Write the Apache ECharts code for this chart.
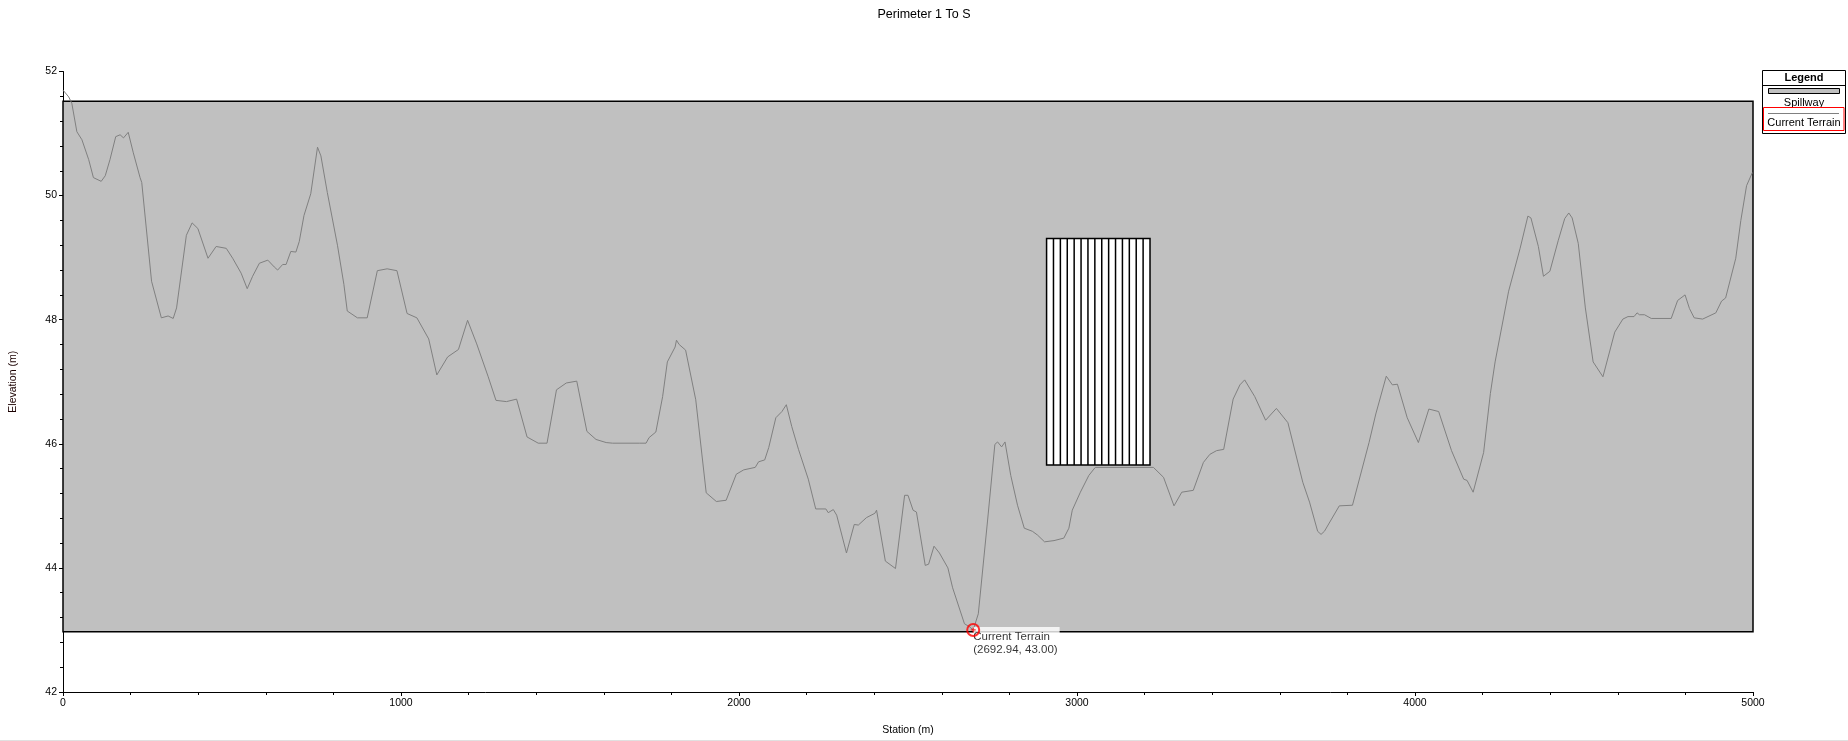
<!DOCTYPE html>
<html>
<head>
<meta charset="utf-8">
<script src="https://cdn.jsdelivr.net/npm/echarts@6/dist/echarts.min.js"></script>
<style>
  html, body { margin: 0; padding: 0; background: #fff; }
  #chart { width: 1848px; height: 741px; }
</style>
</head>
<body>
<div id="chart"></div>
<script>
// ---- Data ----
const chartTitle = 'Perimeter 1 To S';
const xAxisName = 'Station (m)';
const yAxisName = 'Elevation (m)';
const xTicks = [0, 1000, 2000, 3000, 4000, 5000];
const yTicks = [42, 44, 46, 48, 50, 52];
const seriesNames = ['Spillway', 'Current Terrain'];

// Spillway extent: [station start, station end, bottom elevation, top elevation]
const spillway = [0, 5000, 42.97, 51.52];
// Hatched block: [station start, station end, bottom elevation, top elevation]
const hatchBlock = [2910, 3216, 45.66, 49.31];

// Current terrain profile
const stations = [
  0, 17, 26, 41, 56, 76, 90, 113, 125, 139, 156, 169, 179, 193, 208, 228, 233, 262, 291, 311,
  326, 336, 365, 382, 399, 429, 453, 483, 502, 527, 545, 561, 581, 606, 625, 635, 650, 660, 674, 689,
  699, 713, 733, 753, 763, 782, 812, 831, 841, 871, 900, 930, 959, 988, 1018, 1047, 1082, 1106, 1138, 1170,
  1197, 1224, 1258, 1281, 1312, 1342, 1373, 1406, 1432, 1460, 1489, 1520, 1550, 1577, 1607, 1626, 1705, 1725, 1734, 1754,
  1774, 1788, 1811, 1815, 1823, 1842, 1872, 1903, 1933, 1962, 1992, 2014, 2048, 2058, 2076, 2088, 2109, 2127, 2140, 2156,
  2176, 2205, 2227, 2257, 2264, 2279, 2289, 2318, 2341, 2353, 2377, 2402, 2407, 2433, 2463, 2490, 2500, 2515, 2525, 2551,
  2561, 2577, 2593, 2618, 2632, 2667, 2682, 2692.94, 2708, 2735, 2757, 2765, 2777, 2787, 2804, 2824, 2844, 2868, 2883, 2904,
  2932, 2961, 2976, 2986, 3010, 3035, 3054, 3226, 3256, 3287, 3310, 3344, 3374, 3393, 3413, 3434, 3462, 3482, 3496, 3526,
  3558, 3590, 3624, 3668, 3688, 3712, 3722, 3732, 3776, 3815, 3864, 3884, 3915, 3933, 3948, 3977, 4010, 4041, 4070, 4075,
  4108, 4144, 4154, 4172, 4203, 4223, 4237, 4277, 4311, 4334, 4343, 4365, 4380, 4399, 4424, 4443, 4455, 4465, 4483, 4504,
  4527, 4556, 4591, 4615, 4630, 4648, 4657, 4664, 4679, 4699, 4758, 4777, 4799, 4812, 4826, 4851, 4890, 4907, 4919, 4949,
  4964, 4981, 4998
];
const elevations = [
  51.70, 51.59, 51.49, 51.03, 50.90, 50.58, 50.29, 50.23, 50.32, 50.58, 50.95, 50.98, 50.93, 51.02, 50.69, 50.29, 50.21, 48.62, 48.03, 48.06,
  48.02, 48.19, 49.36, 49.56, 49.47, 48.99, 49.18, 49.15, 48.99, 48.75, 48.50, 48.70, 48.91, 48.96, 48.85, 48.80, 48.89, 48.89, 49.10, 49.09,
  49.26, 49.68, 50.03, 50.78, 50.64, 50.05, 49.20, 48.57, 48.14, 48.03, 48.03, 48.79, 48.82, 48.79, 48.10, 48.03, 47.69, 47.11, 47.40, 47.52,
  47.99, 47.61, 47.08, 46.70, 46.68, 46.72, 46.11, 46.01, 46.01, 46.87, 46.98, 47.01, 46.20, 46.07, 46.02, 46.01, 46.01, 46.01, 46.10, 46.19,
  46.76, 47.32, 47.56, 47.67, 47.60, 47.51, 46.71, 45.21, 45.07, 45.09, 45.51, 45.58, 45.62, 45.71, 45.74, 45.94, 46.42, 46.52, 46.63, 46.28,
  45.91, 45.43, 44.95, 44.95, 44.89, 44.94, 44.85, 44.24, 44.70, 44.69, 44.81, 44.88, 44.93, 44.11, 43.99, 45.17, 45.17, 44.93, 44.90, 44.04,
  44.06, 44.35, 44.24, 44.00, 43.68, 43.10, 43.05, 43.00, 43.26, 44.74, 45.99, 46.03, 45.95, 46.03, 45.49, 45.01, 44.64, 44.59, 44.53, 44.42,
  44.44, 44.48, 44.64, 44.93, 45.22, 45.49, 45.62, 45.62, 45.46, 45.00, 45.22, 45.25, 45.70, 45.83, 45.89, 45.91, 46.72, 46.95, 47.03, 46.76,
  46.38, 46.57, 46.34, 45.38, 45.06, 44.59, 44.54, 44.59, 45.00, 45.01, 46.02, 46.48, 47.09, 46.95, 46.96, 46.42, 46.02, 46.56, 46.52, 46.55,
  45.89, 45.43, 45.41, 45.22, 45.86, 46.81, 47.32, 48.46, 49.15, 49.67, 49.64, 49.18, 48.70, 48.78, 49.28, 49.63, 49.72, 49.64, 49.23, 48.19,
  47.32, 47.08, 47.80, 48.01, 48.05, 48.05, 48.11, 48.08, 48.08, 48.02, 48.02, 48.31, 48.40, 48.18, 48.03, 48.01, 48.11, 48.30, 48.35, 48.99,
  49.60, 50.16, 50.37
];
// Highlighted point
const currentPoint = [2692.94, 43.00];

// ---- Chart ----
const HATCH_INTERVALS = 15;
const FONT = '"Liberation Sans", Arial, sans-serif';

const terrainData = stations.map((s, i) => [s, elevations[i]]);

const chart = echarts.init(document.getElementById('chart'), null, { renderer: 'canvas' });

const option = {
  animation: false,
  backgroundColor: '#ffffff',
  title: {
    text: chartTitle,
    left: 'center',
    top: 3,
    textStyle: { fontFamily: FONT, fontSize: 12.5, fontWeight: 'normal', color: '#000' }
  },
  grid: { left: 56, right: 95, top: 71.5, bottom: 43, containLabel: false },
  xAxis: {
    type: 'value',
    min: xTicks[0],
    max: xTicks[xTicks.length - 1],
    interval: xTicks[1] - xTicks[0],
    name: xAxisName,
    nameLocation: 'middle',
    nameGap: 33,
    nameTextStyle: { fontFamily: FONT, fontSize: 10.5, color: '#000' },
    axisLine: { show: true, lineStyle: { color: '#000', width: 1 } },
    axisTick: { show: true, length: 4, lineStyle: { color: '#000' } },
    minorTick: { show: true, splitNumber: 5, length: 3, lineStyle: { color: '#000' } },
    axisLabel: {
      fontFamily: FONT, fontSize: 10.5, color: '#000', margin: 6,
      formatter: function (v) { return String(v); }
    },
    splitLine: { show: false }
  },
  yAxis: {
    type: 'value',
    min: yTicks[0],
    max: yTicks[yTicks.length - 1],
    interval: yTicks[1] - yTicks[0],
    name: yAxisName,
    nameLocation: 'middle',
    nameRotate: 90,
    nameGap: 44,
    nameTextStyle: { fontFamily: FONT, fontSize: 10.5, color: '#1a0000' },
    axisLine: { show: true, lineStyle: { color: '#000', width: 1 } },
    axisTick: { show: true, length: 4, lineStyle: { color: '#000' } },
    minorTick: { show: true, splitNumber: 5, length: 3, lineStyle: { color: '#000' } },
    axisLabel: {
      fontFamily: FONT, fontSize: 10.5, color: '#000', margin: 6,
      formatter: function (v) { return String(v); }
    },
    splitLine: { show: false }
  },
  series: [
    {
      name: seriesNames[0],
      type: 'custom',
      z: 1,
      clip: false,
      encode: { x: [0, 1], y: [2, 3] },
      data: [spillway],
      renderItem: function (params, api) {
        const p0 = api.coord([api.value(0), api.value(3)]);
        const p1 = api.coord([api.value(1), api.value(2)]);
        return {
          type: 'rect',
          shape: { x: p0[0], y: p0[1], width: p1[0] - p0[0], height: p1[1] - p0[1] },
          style: { fill: '#c0c0c0', stroke: '#000', lineWidth: 1.5 }
        };
      },
      silent: true
    },
    {
      name: 'Block',
      type: 'custom',
      z: 2,
      encode: { x: [0, 1], y: [2, 3] },
      data: [hatchBlock],
      renderItem: function (params, api) {
        const x0 = api.value(0), x1 = api.value(1), y0 = api.value(2), y1 = api.value(3);
        const tl = api.coord([x0, y1]);
        const br = api.coord([x1, y0]);
        const children = [{
          type: 'rect',
          shape: { x: tl[0], y: tl[1], width: br[0] - tl[0], height: br[1] - tl[1] },
          style: { fill: '#fff', stroke: '#000', lineWidth: 1.5 }
        }];
        for (let i = 1; i < HATCH_INTERVALS; i++) {
          const xs = x0 + (x1 - x0) * i / HATCH_INTERVALS;
          const px = api.coord([xs, y0])[0];
          children.push({
            type: 'line',
            shape: { x1: px, y1: tl[1], x2: px, y2: br[1] },
            style: { stroke: '#000', lineWidth: 1.5 }
          });
        }
        return { type: 'group', children: children };
      },
      silent: true
    },
    {
      name: seriesNames[1],
      type: 'line',
      z: 3,
      data: terrainData,
      showSymbol: false,
      symbol: 'none',
      lineStyle: { color: '#808080', width: 1 },
      clip: false,
      silent: true
    },
    {
      name: 'PointLabel',
      type: 'scatter',
      z: 3,
      data: [currentPoint],
      symbol: 'circle',
      symbolSize: 12,
      itemStyle: { color: 'rgba(0,0,0,0)' },
      label: {
        show: true,
        position: [6, 3],
        align: 'left',
        verticalAlign: 'top',
        formatter: function (p) {
          return seriesNames[1] + '\n(' + p.value[0].toFixed(2) + ', ' + p.value[1].toFixed(2) + ')';
        },
        fontFamily: FONT,
        fontSize: 11.5,
        lineHeight: 12.5,
        color: '#000',
        backgroundColor: '#ffffff',
        padding: [4, 2, 1, 0]
      },
      silent: true
    },
    {
      name: 'PointMarker',
      type: 'scatter',
      z: 5,
      data: [currentPoint],
      symbol: 'circle',
      symbolSize: 12,
      itemStyle: { color: 'rgba(0,0,0,0)', borderColor: '#ff0000', borderWidth: 2 },
      silent: true
    },
    {
      name: 'PointCross',
      type: 'scatter',
      z: 6,
      data: [currentPoint],
      symbol: 'path://M1.5,0H2.5V1.5H4V2.5H2.5V4H1.5V2.5H0V1.5H1.5Z',
      symbolSize: 5,
      itemStyle: { color: '#ff0000' },
      silent: true
    }
  ],
  graphic: [
    { type: 'line', shape: { x1: 0, y1: 740.5, x2: 1848, y2: 740.5 }, style: { stroke: '#e0e0e0', lineWidth: 1 }, silent: true },
    { type: 'rect', shape: { x: 1762.5, y: 70.5, width: 83, height: 63 }, style: { fill: '#fff', stroke: '#000', lineWidth: 1 }, silent: true },
    { type: 'text', x: 1804, y: 77.5, style: { text: 'Legend', font: 'bold 11px ' + FONT, fill: '#000', align: 'center', verticalAlign: 'middle' }, silent: true },
    { type: 'line', shape: { x1: 1762.5, y1: 85.5, x2: 1845.5, y2: 85.5 }, style: { stroke: '#000', lineWidth: 1 }, silent: true },
    { type: 'rect', shape: { x: 1768.5, y: 88.5, width: 71, height: 5 }, style: { fill: '#c0c0c0', stroke: '#000', lineWidth: 1 }, silent: true },
    { type: 'text', x: 1804, y: 102.5, style: { text: seriesNames[0], font: '11px ' + FONT, fill: '#000', align: 'center', verticalAlign: 'middle' }, silent: true },
    { type: 'rect', shape: { x: 1763.5, y: 107.5, width: 80.5, height: 23 }, style: { fill: 'none', stroke: '#ff0000', lineWidth: 1 }, silent: true },
    { type: 'line', shape: { x1: 1768, y1: 113.5, x2: 1839, y2: 113.5 }, style: { stroke: '#808080', lineWidth: 1 }, silent: true },
    { type: 'text', x: 1804, y: 122.5, style: { text: seriesNames[1], font: '11px ' + FONT, fill: '#000', align: 'center', verticalAlign: 'middle' }, silent: true }
  ]
};

chart.setOption(option);
</script>
</body>
</html>
